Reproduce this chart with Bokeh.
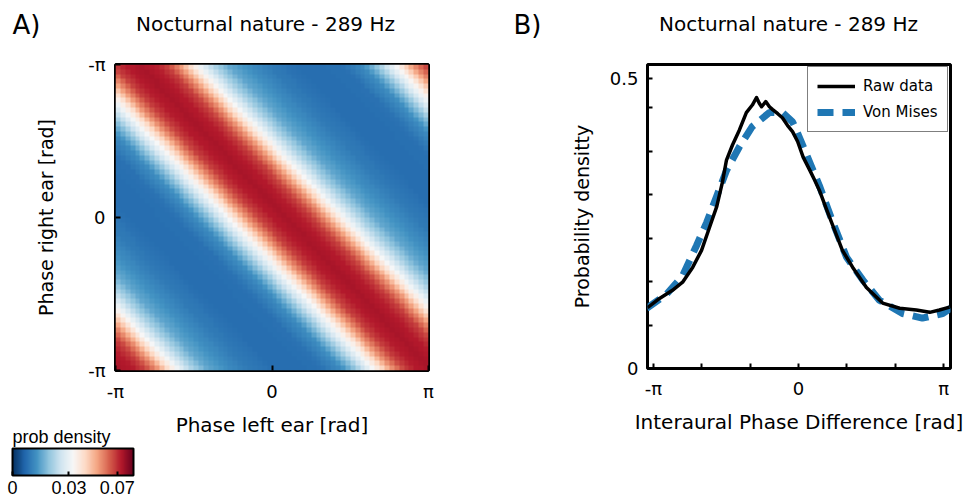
import numpy as np
from bokeh.plotting import figure
from bokeh.layouts import row, column
from bokeh.models import (Range1d, FixedTicker, LinearColorMapper, ColorBar,
                          Legend, LegendItem)
from bokeh.core.properties import value
from bokeh.embed import file_html
from bokeh.resources import INLINE

PI = np.pi

# ---------------- texts ----------------
panel_letters = ["A)", "B)"]
panel_titles = ["Nocturnal nature - 289 Hz", "Nocturnal nature - 289 Hz"]

# ---------------- Panel B data ----------------
raw_ipd = [-3.27, -3.01, -2.73, -2.51, -2.29, -2.10, -1.93, -1.77, -1.65, -1.56,
           -1.43, -1.28, -1.13, -1.00, -0.91, -0.85, -0.80, -0.71, -0.63, -0.56,
           -0.45, -0.35, -0.24, -0.13, -0.02, 0.10, 0.24, 0.35, 0.45, 0.61,
           0.78, 0.95, 1.17, 1.47, 1.82, 2.19, 2.55, 2.84, 3.05, 3.27]
raw_density = [0.105, 0.121, 0.135, 0.149, 0.175, 0.204, 0.243, 0.280, 0.321, 0.360,
               0.386, 0.412, 0.442, 0.455, 0.468, 0.458, 0.452, 0.461, 0.452, 0.447,
               0.440, 0.433, 0.420, 0.409, 0.392, 0.365, 0.343, 0.325, 0.308, 0.274,
               0.239, 0.204, 0.175, 0.140, 0.113, 0.104, 0.101, 0.097, 0.101, 0.106]

vm_ipd = [-3.29, -2.86, -2.51, -2.21, -1.99, -1.77, -1.56, -1.28, -1.00, -0.63,
          -0.35, -0.13, -0.04, 0.17, 0.45, 0.74, 1.04, 1.39, 1.75, 2.25,
          2.68, 3.12, 3.29]
vm_density = [0.104, 0.128, 0.160, 0.212, 0.252, 0.298, 0.342, 0.383, 0.418, 0.442,
              0.442, 0.426, 0.410, 0.370, 0.316, 0.253, 0.192, 0.153, 0.118, 0.095,
              0.087, 0.095, 0.104]

heat_offset = [-3.1416, -2.6, -2.2, -1.8, -1.55, -1.35, -1.15, -1.0, -0.8, -0.55, -0.3,
               0.0, 0.3, 0.55, 0.8, 1.0, 1.15, 1.35, 1.55, 1.8, 2.2, 2.6, 3.1416]
heat_density = [0.0090, 0.0090, 0.0095, 0.0140, 0.0220, 0.0300, 0.0375, 0.0440, 0.0540, 0.0630, 0.0670,
                0.0685, 0.0670, 0.0630, 0.0540, 0.0440, 0.0375, 0.0300, 0.0240, 0.0180, 0.0140, 0.0110, 0.0090]
band_slope = 0.939     # band tilt (phase left vs phase right)
band_shift = 0.273     # band offset [rad]
n_cells = 64

axis_ticks = [-PI, 0.0, PI]
x_tick_labels = ["-π", "0", "π"]
y_tick_labels_a = ["-π", "0", "-π"]
ipd_minor_ticks = [-2 * PI / 3, -PI / 3, PI / 3, 2 * PI / 3]
dens_ticks = [0.0, 0.5]
dens_tick_labels = ["0", "0.5"]
dens_minor_ticks = [0.075, 0.15, 0.225, 0.3, 0.375, 0.45]
cbar_ticks = [0.0, 0.035, 0.065]
cbar_labels = ["0", "0.03", "0.07"]

# ---------------- palette (blue -> white -> red) ----------------
rdbu = ["#053061", "#2166ac", "#4393c3", "#92c5de", "#d1e5f0", "#f7f7f7",
        "#fddbc7", "#f4a582", "#d6604d", "#b2182b", "#67001f"]
rgb = np.array([[int(c[i:i + 2], 16) for i in (1, 3, 5)] for c in rdbu], float)
pos = np.linspace(0, 1, len(rdbu))
palette = []
for t in np.linspace(0, 1, 256):
    r, g, b = (int(round(np.interp(t, pos, rgb[:, k]))) for k in range(3))
    palette.append("#%02x%02x%02x" % (r, g, b))

mapper = LinearColorMapper(palette=palette, low=0.0, high=0.075)

# ---------------- heat map image ----------------
centers = -PI + (np.arange(n_cells) + 0.5) * 2 * PI / n_cells
X, Y = np.meshgrid(centers, centers)
phase_right = -Y  # axis is labelled with -π at the top
d = X - band_slope * phase_right - band_shift
d = (d + PI) % (2 * PI) - PI
Z = np.interp(d, heat_offset, heat_density)

FONT = "DejaVu Sans"
HEADER_H = 45

def style_axis(ax, label, label_size, tick_standoff, label_standoff):
    ax.axis_label = label
    ax.axis_label_text_font = FONT
    ax.axis_label_text_font_size = label_size
    ax.axis_label_text_font_style = "normal"
    ax.axis_label_text_color = "black"
    ax.axis_label_standoff = label_standoff
    ax.major_label_text_font = FONT
    ax.major_label_text_font_size = "18px"
    ax.major_label_text_color = "black"
    ax.major_label_standoff = tick_standoff
    ax.major_tick_in = 5
    ax.major_tick_out = 0
    ax.major_tick_line_width = 2
    ax.major_tick_line_color = "black"
    ax.minor_tick_in = 5
    ax.minor_tick_out = 0
    ax.minor_tick_line_width = 2
    ax.minor_tick_line_color = "black"
    ax.axis_line_color = None

# ---------------- header strip: panel letters and titles ----------------
hd = figure(width=970, height=HEADER_H, x_range=Range1d(0, 970), y_range=Range1d(0, HEADER_H),
            min_border=0, output_backend="svg", toolbar_location=None)
hd.axis.visible = False
hd.grid.visible = False
hd.outline_line_color = None
hd.text(x=[12, 513], y=[HEADER_H - 24, HEADER_H - 24], text=panel_letters,
        text_font=value(FONT), text_font_size=value("26px"), text_color="black",
        text_align="left", text_baseline="middle")
hd.text(x=[265, 788], y=[HEADER_H - 23, HEADER_H - 23], text=panel_titles,
        text_font=value(FONT), text_font_size=value("20px"), text_color="black",
        text_align="center", text_baseline="middle")

# ---------------- Panel A ----------------
pa = figure(width=485, height=499 - HEADER_H, frame_width=313, frame_height=306,
            min_border_left=115, min_border_right=57, min_border_top=62 - HEADER_H,
            min_border_bottom=131,
            x_range=Range1d(-PI, PI), y_range=Range1d(-PI, PI),
            output_backend="svg", toolbar_location=None)
pa.image(image=[Z], x=-PI, y=-PI, dw=2 * PI, dh=2 * PI, color_mapper=mapper)
pa.grid.visible = False
pa.outline_line_color = "black"
pa.outline_line_width = 3

pa.xaxis.ticker = FixedTicker(ticks=axis_ticks)
pa.xaxis.major_label_overrides = dict(zip(axis_ticks, x_tick_labels))
pa.yaxis.ticker = FixedTicker(ticks=axis_ticks)
pa.yaxis.major_label_overrides = dict(zip(axis_ticks, y_tick_labels_a))
style_axis(pa.xaxis[0], "Phase left ear [rad]", "20px", 10, 8)
style_axis(pa.yaxis[0], "Phase right ear [rad]", "19px", 10, 28)

cb = ColorBar(color_mapper=mapper, orientation="horizontal", width=121, height=27,
              location=(-103, -126), padding=0, margin=0,
              title="prob density", title_text_font="Liberation Sans",
              title_text_font_size="18px", title_text_font_style="normal",
              title_text_color="black", title_standoff=4,
              ticker=FixedTicker(ticks=cbar_ticks),
              major_label_overrides=dict(zip(cbar_ticks, cbar_labels)),
              major_label_text_font="Liberation Sans", major_label_text_font_size="18px",
              major_label_text_color="black",
              label_standoff=5,
              major_tick_line_color="black", major_tick_line_width=2,
              major_tick_in=4, major_tick_out=0,
              bar_line_color="black", bar_line_width=2,
              background_fill_color=None, border_line_color=None)
pa.add_layout(cb, "center")

# ---------------- Panel B ----------------
pb = figure(width=485, height=499 - HEADER_H, frame_width=303, frame_height=304,
            min_border_left=162, min_border_right=20, min_border_top=64 - HEADER_H,
            min_border_bottom=131,
            x_range=Range1d(-3.27, 3.29), y_range=Range1d(0, 0.525),
            output_backend="svg", toolbar_location=None)
pb.grid.visible = False
pb.outline_line_color = "black"
pb.outline_line_width = 3

vm = pb.line(vm_ipd, vm_density, line_color="#1f77b4", line_width=7, line_dash="16 9")
raw = pb.line(raw_ipd, raw_density, line_color="black", line_width=3.5, line_join="round")

pb.xaxis.ticker = FixedTicker(ticks=axis_ticks, minor_ticks=ipd_minor_ticks)
pb.xaxis.major_label_overrides = dict(zip(axis_ticks, x_tick_labels))
pb.yaxis.ticker = FixedTicker(ticks=dens_ticks, minor_ticks=dens_minor_ticks)
pb.yaxis.major_label_overrides = dict(zip(dens_ticks, dens_tick_labels))
style_axis(pb.xaxis[0], "Interaural Phase Difference [rad]", "20px", 9, 8)
style_axis(pb.yaxis[0], "Probability densitty", "19px", 9, 14)

legend = Legend(items=[LegendItem(label="Raw data", renderers=[raw]),
                       LegendItem(label="Von Mises", renderers=[vm])],
                location=(160, 236), margin=0, padding=9, spacing=6,
                glyph_width=38, glyph_height=20, label_standoff=8,
                label_text_font=FONT, label_text_font_size="15px",
                label_text_color="black",
                border_line_color="black", border_line_width=1.5,
                background_fill_color="white", background_fill_alpha=1.0)
pb.add_layout(legend, "center")

layout = column(hd, row(pa, pb))
open("out.html", "w").write(file_html(layout, INLINE))
